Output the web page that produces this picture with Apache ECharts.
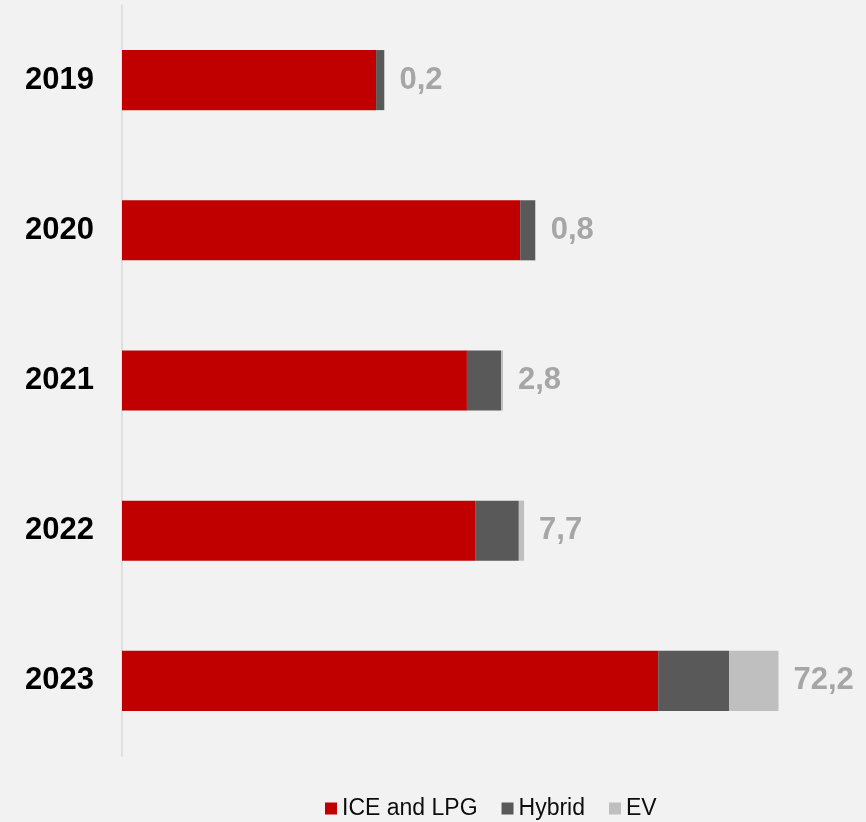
<!DOCTYPE html>
<html>
<head>
<meta charset="utf-8">
<script src="https://cdn.jsdelivr.net/npm/echarts@6/dist/echarts.min.js"></script>
<style>
  html, body { margin: 0; padding: 0; background: #F2F2F2; }
  #chart { width: 866px; height: 822px; }
</style>
</head>
<body>
<div id="chart"></div>
<script>
// years, top to bottom
const years = ['2019', '2020', '2021', '2022', '2023']
// sales (thousand)
const iceLpg = [372, 583, 505, 517, 785]
const hybrid = [12, 22, 50, 64, 104]
const ev = [0.2, 0.8, 2.8, 7.7, 72.2]

const font = '"Liberation Sans", Arial, sans-serif'

const chart = echarts.init(document.getElementById('chart'))

const bar = (name, data, color) => ({
  name,
  type: 'bar',
  stack: 'total',
  barWidth: '40%',
  data,
  itemStyle: { color },
  emphasis: { disabled: true },
})

const evSeries = bar('EV', ev, '#BFBFBF')
evSeries.label = {
  show: true,
  position: 'right',
  distance: 15,
  color: '#A6A6A6',
  fontFamily: font,
  fontWeight: 'bold',
  fontSize: 31,
  formatter: (p) => String(p.value).replace('.', ','),
}

chart.setOption({
  backgroundColor: '#F2F2F2',
  animation: false,
  grid: { left: 122, right: 61, top: 5, bottom: 66 },
  legend: {
    left: 320,
    top: 792,
    itemWidth: 12,
    itemHeight: 12,
    itemGap: 24,
    icon: 'rect',
    textStyle: { fontFamily: font, fontSize: 23, color: '#0D0D0D' },
    data: ['ICE and LPG', 'Hybrid', 'EV'],
  },
  xAxis: {
    type: 'value',
    min: 0,
    max: 1000,
    show: false,
  },
  yAxis: {
    type: 'category',
    data: years,
    inverse: true,
    axisLine: { show: true, lineStyle: { color: '#D9D9D9', width: 1.5 } },
    axisTick: { show: false },
    axisLabel: {
      margin: 28,
      color: '#000',
      fontFamily: font,
      fontWeight: 'bold',
      fontSize: 31,
    },
  },
  series: [
    bar('ICE and LPG', iceLpg, '#C00000'),
    bar('Hybrid', hybrid, '#595959'),
    evSeries,
  ],
})
</script>
</body>
</html>
